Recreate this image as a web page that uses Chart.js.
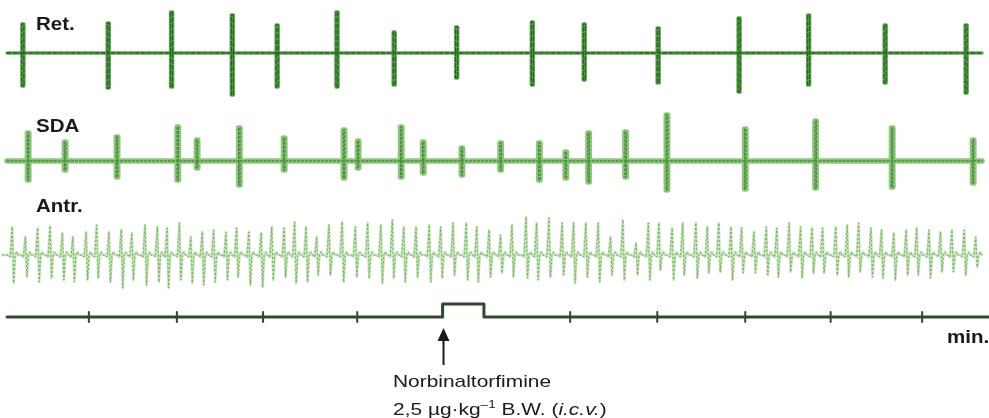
<!DOCTYPE html>
<html lang="en">
<head>
  <meta charset="UTF-8">
  <title>Ret. / SDA / Antr. recording</title>
  <script src="https://cdn.jsdelivr.net/npm/chart.js"></script>
  <style>
    html, body { margin: 0; padding: 0; background: #fff; }
    #wrap { position: relative; width: 989px; height: 418px; overflow: hidden; }
    .lbl { position: absolute; font-family: "Liberation Sans", Arial, sans-serif; color: #1a1a1a;
           line-height: 1; white-space: nowrap; transform-origin: left top; }
    .ch { font-weight: bold; font-size: 18px; transform: scaleX(1.14); }
    .drug { font-size: 17px; transform: scaleX(1.23); }
  </style>
</head>
<body>
  <div id="wrap">
    <canvas id="trace" width="989" height="418"></canvas>
    <div class="lbl ch" style="left:36px; top:15px">Ret.</div>
    <div class="lbl ch" style="left:36px; top:117px">SDA</div>
    <div class="lbl ch" style="left:36px; top:197px">Antr.</div>
    <div class="lbl ch" style="left:947px; top:328px">min.</div>
    <div class="lbl drug" style="left:393px; top:373px">Norbinaltorfimine</div>
    <div class="lbl drug" style="left:393px; top:399px">2,5 µg·kg<sup style="font-size:11px">–1</sup> B.W. (<i>i.c.v.</i>)</div>
  </div>
  <script>
    // time in minutes, amplitudes in arbitrary units (up positive)
    const T_START = 0.08, T_END = 11.24;

    // Ret. - spike times and amplitudes
    const retTimes = [0.26, 1.23, 1.95, 2.64, 3.15, 3.83, 4.48, 5.19, 6.05, 6.64, 7.48, 8.40, 9.19, 10.06, 10.98];
    const retUp    = [29, 30, 41, 38, 28, 41, 21, 26, 31, 29, 25, 35, 38, 28, 28];
    const retDown  = [33, 35, 34, 42, 34, 34, 32, 25, 32, 27, 30, 39, 32, 30, 40];

    // SDA
    const sdaTimes = [0.32, 0.74, 1.33, 2.02, 2.24, 2.72, 3.23, 3.91, 4.07, 4.56, 4.81, 5.25, 5.69, 6.13, 6.43, 6.69, 7.11, 7.58, 8.47, 9.27, 10.14, 11.06];
    const sdaUp    = [28, 19, 24, 34, 21, 33, 23, 31, 20, 34, 19, 13, 18, 18, 9, 28, 29, 46, 32, 40, 33, 21];
    const sdaDown  = [19, 9, 16, 19, 7, 24, 9, 17, 7, 16, 12, 14, 9, 19, 17, 21, 16, 29, 28, 27, 26, 22];

    // Antr. - contraction cycles
    const antrTimes = [0.15, 0.30, 0.44, 0.58, 0.72, 0.84, 0.99, 1.11, 1.25, 1.39, 1.51, 1.66, 1.80, 1.91, 2.05, 2.18, 2.31, 2.44, 2.58, 2.70, 2.84, 2.98, 3.10, 3.24, 3.36, 3.49, 3.61,
                       3.75, 3.90, 4.05, 4.19, 4.34, 4.47, 4.60, 4.74, 4.89, 5.02, 5.16, 5.31, 5.43, 5.57, 5.70, 5.83, 5.99, 6.11, 6.25, 6.40, 6.53, 6.67, 6.81, 6.95, 7.09, 7.24, 7.38,
                       7.50, 7.65, 7.77, 7.92, 8.05, 8.18, 8.32, 8.44, 8.58, 8.72, 8.84, 8.98, 9.11, 9.24, 9.36, 9.51, 9.64, 9.77, 9.91, 10.03, 10.17, 10.31, 10.43, 10.57, 10.70, 10.83, 10.97, 11.10];
    const antrUp    = [28, 18, 27, 29, 22, 18, 23, 30, 23, 25, 22, 30, 28, 27, 32, 18, 23, 25, 23, 27, 23, 22, 28, 27, 33, 28, 18,
                       30, 33, 28, 32, 30, 35, 28, 28, 30, 28, 32, 32, 28, 25, 20, 30, 38, 32, 37, 32, 32, 32, 32, 18, 35, 12, 32,
                       32, 27, 32, 32, 28, 32, 28, 27, 23, 28, 27, 32, 28, 27, 27, 28, 30, 32, 27, 25, 22, 25, 27, 25, 23, 25, 25, 18];
    const antrDown  = [28, 22, 27, 23, 25, 27, 25, 23, 27, 33, 25, 30, 27, 33, 25, 28, 30, 27, 25, 22, 30, 32, 25, 22, 28, 27, 20,
                       20, 27, 22, 23, 28, 23, 27, 22, 27, 23, 20, 25, 27, 22, 18, 22, 23, 25, 22, 20, 28, 22, 27, 20, 25, 20, 25,
                       15, 25, 20, 23, 18, 17, 25, 18, 18, 20, 22, 17, 23, 18, 18, 20, 22, 17, 22, 23, 25, 20, 20, 23, 17, 17, 20, 12];

    // time bar: minute ticks and injection marker
    const minuteTicks = [1.01, 2.01, 2.99, 4.06, 6.48, 7.47, 8.47, 9.44, 10.48];
    const INJ_START = 5.03, INJ_END = 5.50, INJ_LEVEL = 13;

    const PX = 1 / 88; // one screen pixel in minutes, for mark widths

    // each burst drawn as a narrow band: up one edge, across, down the other edge
    function spikeTrace(times, up, down, half) {
      const w = half * PX;
      const pts = [{ x: T_START, y: 0 }];
      times.forEach((t, i) => {
        pts.push(
          { x: t - w, y: 0 }, { x: t - w, y: up[i] }, { x: t + w, y: up[i] },
          { x: t + w, y: -down[i] }, { x: t - w, y: -down[i] }, { x: t - w, y: 0 }, { x: t + w, y: 0 }
        );
      });
      pts.push({ x: T_END - 7 * PX, y: 0 });
      return pts;
    }

    function antrTrace() {
      const pts = [{ x: T_START - 0.05, y: 0 }];
      antrTimes.forEach((t, i) => {
        pts.push(
          { x: t - 5 * PX, y: 0 },
          { x: t - 3 * PX, y: -2 },
          { x: t - 1 * PX, y: antrUp[i] },
          { x: t + 0.5 * PX, y: -antrDown[i] },
          { x: t + 2 * PX, y: 0 },
          { x: t + 3.5 * PX, y: 3 },
          { x: t + 5 * PX, y: 0 }
        );
      });
      return pts;
    }

    const timeBar = [
      { x: T_START, y: 0 }, { x: INJ_START, y: 0 }, { x: INJ_START, y: INJ_LEVEL },
      { x: INJ_END, y: INJ_LEVEL }, { x: INJ_END, y: 0 }, { x: T_END, y: 0 }
    ];
    const tickMarks = [];
    minuteTicks.forEach(t => tickMarks.push({ x: t, y: -5 }, { x: t, y: 5 }, { x: t, y: null }));

    const retPts = spikeTrace(retTimes, retUp, retDown, 1);
    const sdaPts = spikeTrace(sdaTimes, sdaUp, sdaDown, 0.7);
    const antrPts = antrTrace();

    // arrow under the injection step
    const arrowPlugin = {
      id: 'arrow',
      afterDatasetsDraw(chart) {
        const ctx = chart.ctx;
        const x = Math.round(chart.scales.x.getPixelForValue(INJ_START)) + 0.5;
        const y0 = chart.scales.yTime.getPixelForValue(0);
        ctx.save();
        ctx.strokeStyle = '#1a1a1a';
        ctx.fillStyle = '#1a1a1a';
        ctx.lineWidth = 2;
        ctx.beginPath();
        ctx.moveTo(x, y0 + 20);
        ctx.lineTo(x, y0 + 48);
        ctx.stroke();
        ctx.beginPath();
        ctx.moveTo(x, y0 + 11);
        ctx.lineTo(x - 6, y0 + 24);
        ctx.lineTo(x + 6, y0 + 24);
        ctx.closePath();
        ctx.fill();
        ctx.restore();
      }
    };

    // order: higher numbers are painted first (underneath)
    const line = (data, axis, color, width, order, dash) => ({
      data, yAxisID: axis, borderColor: color, borderWidth: width, order,
      borderDash: dash || [], borderJoinStyle: 'round', borderCapStyle: 'round',
      pointRadius: 0, tension: 0, fill: false
    });

    new Chart(document.getElementById('trace'), {
      type: 'line',
      data: {
        datasets: [
          line(retPts, 'yRet', '#5fae50', 3.5, 2),
          line(retPts, 'yRet', '#2b5f27', 1.4, 1, [4, 2]),
          line(sdaPts, 'ySda', '#8cc67a', 5.5, 2),
          line(sdaPts, 'ySda', '#4a8a40', 1.3, 1, [2, 2]),
          line(antrPts, 'yAntr', '#c4e3b6', 2.5, 2),
          line(antrPts, 'yAntr', '#6fa862', 1, 1, [1, 3]),
          line(timeBar, 'yTime', '#2e4a2b', 3, 1),
          line(tickMarks, 'yTime', '#2e4a2b', 2, 1)
        ]
      },
      options: {
        responsive: false,
        animation: false,
        devicePixelRatio: 1,
        layout: { padding: 0 },
        plugins: { legend: { display: false }, tooltip: { enabled: false } },
        scales: {
          x: { type: 'linear', min: 0, max: T_END, display: false },
          yRet:  { min: -365, max: 53,  display: false },
          ySda:  { min: -257, max: 161, display: false },
          yAntr: { min: -163, max: 255, display: false },
          yTime: { min: -101, max: 317, display: false }
        }
      },
      plugins: [arrowPlugin]
    });
  </script>
</body>
</html>
